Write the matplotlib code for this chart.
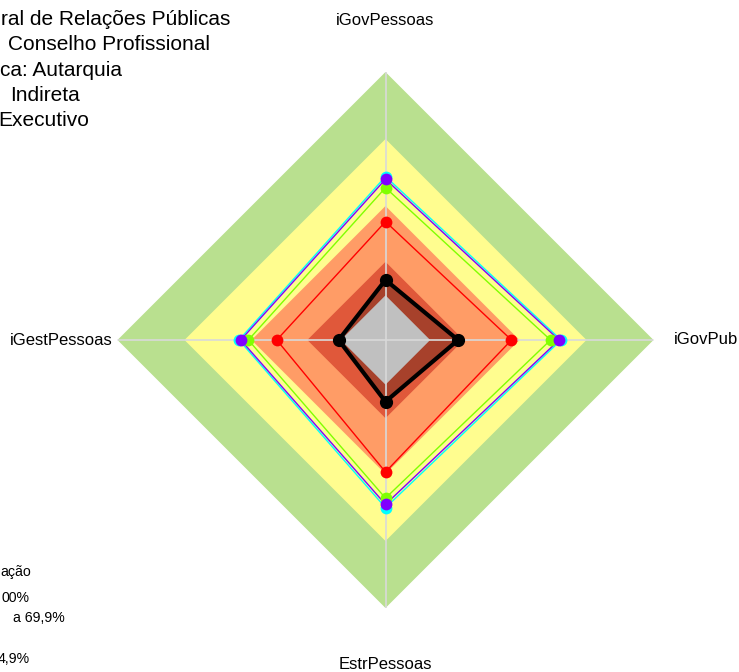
import numpy as np
import matplotlib
matplotlib.use("Agg")
import matplotlib.pyplot as plt

plt.rcParams['font.family'] = ['Liberation Sans', 'DejaVu Sans']

categories = ["iGovPessoas", "iGovPub", "EstrPessoas", "iGestPessoas"]

# band limits (percent)
band_limits = [100, 70, 40, 15, 0]
band_colors = ["#B9E08F", "#FFFD8F", "#FF9C66", "#E0583A", "#C0C0C0"]

# series values
series_cyan = [53.2, 58.6, 55.1, 45.6]
series_purple = [52.0, 57.7, 53.6, 44.8]
series_lime = [48.2, 53.9, 50.8, 41.4]
series_red = [33.0, 36.4, 39.1, 28.7]
series_black = [6.9, 12.5, 7.6, 1.0]

info_lines = ["ral de Relações Públicas", "Conselho Profissional", "ca: Autarquia",
              "Indireta", "Executivo"]
legend_lines = ["ação", "00%", "a 69,9%", "4,9%"]

W, H = 739, 672
fig = plt.figure(figsize=(W / 100, H / 100), dpi=100)
cx, cy, R = 385.5, 340, 268
ax = fig.add_axes([(cx - R) / W, (H - cy - R) / H, 2 * R / W, 2 * R / H], projection='polar')
ax.set_theta_zero_location('N')
ax.set_theta_direction(-1)
ax.set_ylim(-20, 100)

theta = np.linspace(0, 2 * np.pi, len(categories), endpoint=False)
tc = np.append(theta, theta[0])

def closed(v):
    return np.append(v, v[0])

# bands
for lim, col in zip(band_limits[:-1], band_colors[:-1]):
    ax.fill(tc, closed([lim] * 4), color=col, lw=0, zorder=1)

# black series fill (translucent)
ax.fill(tc, closed(series_black), color="black", alpha=0.25, lw=0, zorder=2)
# grey centre
ax.fill(tc, closed([band_limits[-1]] * 4), color=band_colors[-1], lw=0, zorder=3)

# spokes
for t in theta:
    ax.plot([t, t], [-20, 100], color="#D9D9D9", lw=1.2, zorder=4)

for vals, col in [(series_cyan, "#00FFFF"), (series_purple, "#8000FF"),
                  (series_lime, "#80FF00"), (series_red, "#FF0000")]:
    ax.plot(tc, closed(vals), color=col, lw=1, zorder=5)
for vals, col in [(series_red, "#FF0000"), (series_lime, "#80FF00"),
                  (series_cyan, "#00FFFF"), (series_purple, "#8000FF")]:
    ax.plot(theta, vals, 'o', color=col, ms=8.5, mec='none', zorder=6)

ax.plot(tc, closed(series_black), color="black", lw=3, zorder=7)
ax.plot(theta, series_black, 'o', color="black", ms=8.5, zorder=8)

ax.grid(False)
ax.spines['polar'].set_visible(False)
ax.set_yticks([])
ax.set_xticks([])
ax.patch.set_alpha(0)

# category labels placed just outside the outer band
label_r = [123.0, 123.5, 125.5, 125.0]
for t, r, s in zip(theta, label_r, categories):
    ax.text(t, r, s, fontsize=12, ha='center', va='center', clip_on=False)

# info text (clipped at left edge)
info_x = [1, 8, 0, 10, -2]
info_y = [25, 50, 76, 101, 126]
for s, x, y in zip(info_lines, info_x, info_y):
    fig.text(x / W, 1 - y / H, s, fontsize=15, ha='left', va='baseline', color='black')

leg_x = [0, 2, 13, -2]
leg_y = [576, 602, 622, 663]
for s, x, y in zip(legend_lines, leg_x, leg_y):
    fig.text(x / W, 1 - y / H, s, fontsize=10.2, ha='left', va='baseline', color='black')

fig.savefig("out.png", dpi=100)
